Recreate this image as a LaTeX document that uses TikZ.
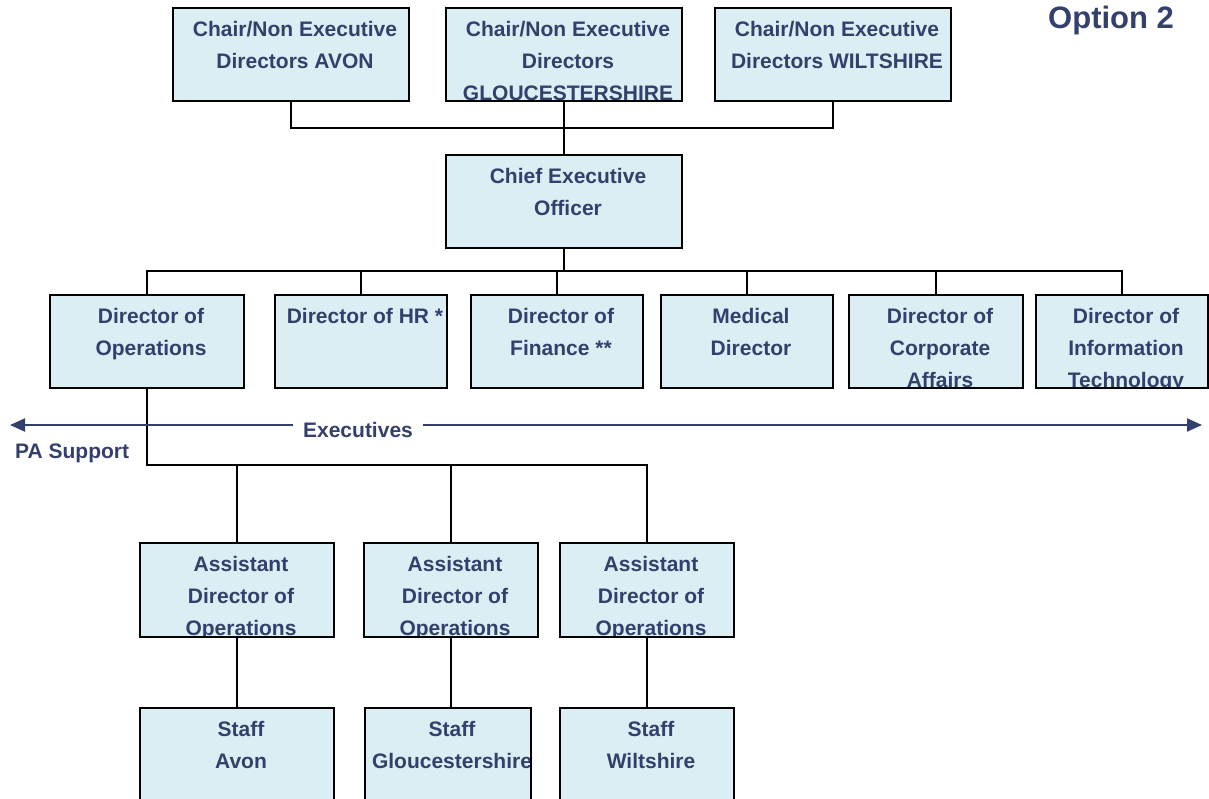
\documentclass[tikz,border=0pt]{standalone}
\usepackage{fontspec}
\setmainfont{Liberation Sans}
\usetikzlibrary{arrows.meta}
\definecolor{txtblue}{RGB}{52,64,108}
\definecolor{boxblue}{RGB}{218,238,244}
\begin{document}
\begin{tikzpicture}[x=1pt,y=-1pt,
  box/.style={draw=black, line width=2pt, fill=boxblue, anchor=north west,
    inner sep=0pt, outer sep=0pt},
  boxtext/.style={anchor=base, inner sep=0pt, text=txtblue,
    font=\bfseries\fontsize{21}{32}\selectfont},
  % box caption, top aligned and clipped to the box outline
  lines/.style={path picture={\node[boxtext] at ([xshift=4pt,yshift=-28pt]path picture bounding box.north)
    {\begin{tabular}[t]{@{}c@{}}#1\end{tabular}};}},
  wire/.style={draw=black, line width=2pt},
  spanarrow/.style={draw=txtblue, line width=2pt, -{Triangle[length=15pt,width=13pt]}},
  captiontext/.style={text=txtblue, font=\bfseries\fontsize{21}{25}\selectfont, inner sep=0pt}
]
\useasboundingbox (0,0) rectangle (1209,798);

% board
\node[box, minimum width=236pt, minimum height=93pt, lines={Chair/Non Executive\\Directors AVON}] (avon) at (173,8) {};
\node[box, minimum width=236pt, minimum height=93pt, lines={Chair/Non Executive\\Directors\\GLOUCESTERSHIRE}] (glouc) at (446,8) {};
\node[box, minimum width=236pt, minimum height=93pt, lines={Chair/Non Executive\\Directors WILTSHIRE}] (wilts) at (715,8) {};

\node[captiontext, font=\bfseries\fontsize{31}{36}\selectfont, anchor=base west] (opt) at (1048,28) {Option 2};

% chief executive
\node[box, minimum width=236pt, minimum height=93pt, lines={Chief Executive\\Officer}] (ceo) at (446,155) {};

% executive directors
\node[box, minimum width=194pt, minimum height=93pt, lines={Director of\\Operations}] (dops) at (50,295) {};
\node[box, minimum width=172pt, minimum height=93pt, lines={Director of HR *}] (dhr) at (275,295) {};
\node[box, minimum width=172pt, minimum height=93pt, lines={Director of\\Finance **}] (dfin) at (471,295) {};
\node[box, minimum width=172pt, minimum height=93pt, lines={Medical\\Director}] (dmed) at (661,295) {};
\node[box, minimum width=174pt, minimum height=93pt, lines={Director of\\Corporate\\Affairs}] (dcorp) at (849,295) {};
\node[box, minimum width=172pt, minimum height=93pt, lines={Director of\\Information\\Technology}] (dit) at (1036,295) {};

% assistant directors
\node[box, minimum width=194pt, minimum height=94pt, lines={Assistant\\Director of\\Operations}] (a1) at (140,543) {};
\node[box, minimum width=174pt, minimum height=94pt, lines={Assistant\\Director of\\Operations}] (a2) at (364,543) {};
\node[box, minimum width=174pt, minimum height=94pt, lines={Assistant\\Director of\\Operations}] (a3) at (560,543) {};

% staff
\node[box, minimum width=194pt, minimum height=110pt, lines={Staff\\Avon}] (s1) at (140,708) {};
\node[box, minimum width=166pt, minimum height=110pt, lines={Staff\\Gloucestershire}] (s2) at (365,708) {};
\node[box, minimum width=174pt, minimum height=110pt, lines={Staff\\Wiltshire}] (s3) at (560,708) {};

% bus lines
\coordinate (boardbus) at (0,128);
\coordinate (dirbus) at (0,271);
\coordinate (opsbus) at (0,465);

\draw[wire] (avon.south) -- (avon.south |- boardbus) -- (wilts.south |- boardbus) -- (wilts.south);
\draw[wire] (glouc.south) -- (ceo.north);

\draw[wire] (ceo.south) -- (ceo.south |- dirbus);
\draw[wire] (dops.north) -- (dops.north |- dirbus) -- (dit.north |- dirbus) -- (dit.north);
\foreach \d in {dhr,dfin,dmed,dcorp} \draw[wire] (\d.north) -- (\d.north |- dirbus);

\draw[wire] (dops.south) -- (dops.south |- opsbus) -- (a3.north |- opsbus) -- (a3.north);
\foreach \a in {a1,a2} \draw[wire] (\a.north) -- (\a.north |- opsbus);

\draw[wire] (a1.south) -- (s1.north -| a1.south);
\draw[wire] (a2.south) -- (s2.north -| a2.south);
\draw[wire] (a3.south) -- (s3.north -| a3.south);

% executives span
\coordinate (spanleft) at (10,425);
\coordinate (spanright) at (1202,425);
\node[captiontext, anchor=base, inner xsep=10pt] (exec) at (358,437) {Executives};
\draw[spanarrow] (spanleft -| exec.west) -- (spanleft);
\draw[spanarrow] (spanright -| exec.east) -- (spanright);

\node[captiontext, anchor=base west] (pa) at (15,458) {PA Support};
\end{tikzpicture}
\end{document}
